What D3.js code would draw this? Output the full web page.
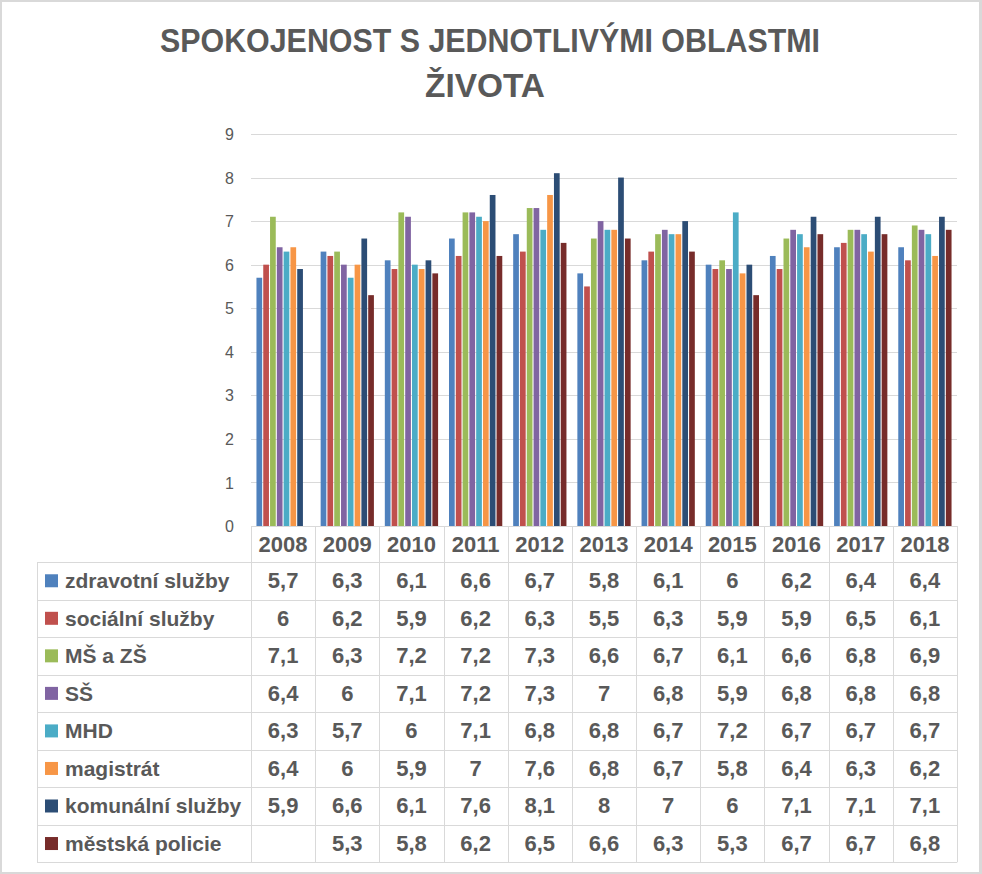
<!DOCTYPE html>
<html>
<head>
<meta charset="utf-8">
<script src="https://cdn.jsdelivr.net/npm/d3@7"></script>
<style>
  html, body { margin: 0; padding: 0; background: #d9d9d9; }
  svg { display: block; }
</style>
</head>
<body>
<svg id="chart" width="982" height="874"></svg>
<script>
const years = ['2008','2009','2010','2011','2012','2013','2014','2015','2016','2017','2018'];
const seriesNames = ['zdravotní služby','sociální služby','MŠ a ZŠ','SŠ','MHD','magistrát','komunální služby','městská policie'];
const zdravotniSluzby = [5.7,6.3,6.1,6.6,6.7,5.8,6.1,6,6.2,6.4,6.4];
const socialniSluzby  = [6,6.2,5.9,6.2,6.3,5.5,6.3,5.9,5.9,6.5,6.1];
const msAZs           = [7.1,6.3,7.2,7.2,7.3,6.6,6.7,6.1,6.6,6.8,6.9];
const ss              = [6.4,6,7.1,7.2,7.3,7,6.8,5.9,6.8,6.8,6.8];
const mhd             = [6.3,5.7,6,7.1,6.8,6.8,6.7,7.2,6.7,6.7,6.7];
const magistrat       = [6.4,6,5.9,7,7.6,6.8,6.7,5.8,6.4,6.3,6.2];
const komunalniSluzby = [5.9,6.6,6.1,7.6,8.1,8,7,6,7.1,7.1,7.1];
const mestskaPolicie  = [null,5.3,5.8,6.2,6.5,6.6,6.3,5.3,6.7,6.7,6.8];
const yTicks = [0,1,2,3,4,5,6,7,8,9];
const colors = ['#4F81BD','#C0504D','#9BBB59','#8064A2','#4BACC6','#F79646','#2C4D75','#772C2A'];
const titleLines = ['SPOKOJENOST S JEDNOTLIVÝMI OBLASTMI','ŽIVOTA'];

const seriesValues = [zdravotniSluzby, socialniSluzby, msAZs, ss, mhd, magistrat, komunalniSluzby, mestskaPolicie];
const series = seriesNames.map((n,i)=>({name:n, values:seriesValues[i], color:colors[i]}));

const svg = d3.select('#chart');
const textColor = '#595959';
const gridColor = '#d9d9d9';
const font = "'Liberation Sans', Arial, sans-serif";

// white panel inside gray frame
svg.append('rect').attr('x',2).attr('y',2).attr('width',977).attr('height',870).attr('fill','#ffffff');

// title
const titleG = svg.append('g');
titleG.append('text').attr('x',490).attr('y',52).attr('text-anchor','middle')
  .attr('font-family',font).attr('font-weight','bold').attr('font-size',34)
  .attr('fill',textColor).attr('textLength',660).attr('lengthAdjust','spacingAndGlyphs')
  .text(titleLines[0]);
titleG.append('text').attr('x',485).attr('y',97).attr('text-anchor','middle')
  .attr('font-family',font).attr('font-weight','bold').attr('font-size',34)
  .attr('fill',textColor).attr('textLength',120).attr('lengthAdjust','spacingAndGlyphs')
  .text(titleLines[1]);

const plotLeft = 251, plotRight = 957, plotTop = 134, plotBottom = 526;
const y = d3.scaleLinear().domain([0,9]).range([plotBottom, plotTop]);
const x0 = d3.scaleBand().domain(years).range([plotLeft, plotRight]).paddingInner(0.17).paddingOuter(0.085);
const x1 = d3.scaleBand().domain(seriesNames).range([0, x0.bandwidth()]).paddingInner(0.16);

// gridlines
svg.append('g').selectAll('line').data(yTicks.filter(d=>d>0)).join('line')
  .attr('x1',plotLeft).attr('x2',plotRight)
  .attr('y1',d=>Math.round(y(d))+0.5).attr('y2',d=>Math.round(y(d))+0.5)
  .attr('stroke',gridColor).attr('stroke-width',1);

// y axis labels
const yAxis = d3.axisLeft(y).tickValues(yTicks).tickSize(0).tickPadding(0).tickFormat(d3.format('d'));
const yg = svg.append('g').attr('transform',`translate(234,0)`).call(yAxis);
yg.select('.domain').remove();
yg.selectAll('text').attr('font-family',font).attr('font-size',16).attr('fill',textColor).attr('dy','0.35em');

// bars
const groups = svg.append('g').selectAll('g').data(years).join('g')
  .attr('transform',d=>`translate(${x0(d)},0)`);
groups.selectAll('rect').data((yr,i)=>series.map(s=>({name:s.name,color:s.color,v:s.values[i]})).filter(d=>d.v!=null))
  .join('rect')
  .attr('x',d=>x1(d.name)).attr('width',x1.bandwidth())
  .attr('y',d=>y(d.v)).attr('height',d=>plotBottom - y(d.v))
  .attr('fill',d=>d.color);

// table
const tableLeft = 37, headerTop = plotBottom, headerBottom = 562, rowH = (862.3-562)/8;
const step = (plotRight-plotLeft)/years.length;
const colX = d3.range(years.length+1).map(i=>plotLeft + i*step);
const tg = svg.append('g');
tg.append('line').attr('x1',plotLeft).attr('x2',plotRight).attr('y1',plotBottom+0.5).attr('y2',plotBottom+0.5).attr('stroke',gridColor);
colX.forEach(cx=>{
  tg.append('line').attr('x1',Math.round(cx)+0.5).attr('x2',Math.round(cx)+0.5)
    .attr('y1',headerTop).attr('y2',headerBottom + rowH*8).attr('stroke',gridColor);
});
tg.append('line').attr('x1',tableLeft+0.5).attr('x2',tableLeft+0.5)
  .attr('y1',headerBottom).attr('y2',headerBottom+rowH*8).attr('stroke',gridColor);
d3.range(9).forEach(i=>{
  const yy = Math.round(headerBottom + i*rowH)+0.5;
  tg.append('line').attr('x1',tableLeft).attr('x2',plotRight).attr('y1',yy).attr('y2',yy).attr('stroke',gridColor);
});
tg.selectAll('text.year').data(years).join('text').attr('class','year')
  .attr('x',d=>x0(d)+x0.bandwidth()/2).attr('y',552).attr('text-anchor','middle')
  .attr('font-family',font).attr('font-weight','bold').attr('font-size',22).attr('fill',textColor)
  .text(d=>d);
series.forEach((s,i)=>{
  const cy = headerBottom + i*rowH + rowH/2;
  tg.append('rect').attr('x',45).attr('y',cy-6.5).attr('width',13).attr('height',13).attr('fill',s.color);
  tg.append('text').attr('x',65).attr('y',cy+7.5)
    .attr('font-family',font).attr('font-weight','bold').attr('font-size',21).attr('fill',textColor)
    .text(s.name);
  s.values.forEach((v,j)=>{
    if (v==null) return;
    tg.append('text').attr('x',x0(years[j])+x0.bandwidth()/2).attr('y',cy+7.5).attr('text-anchor','middle')
      .attr('font-family',font).attr('font-weight','bold').attr('font-size',22).attr('fill',textColor)
      .text(String(v).replace('.',','));
  });
});
</script>
</body>
</html>
